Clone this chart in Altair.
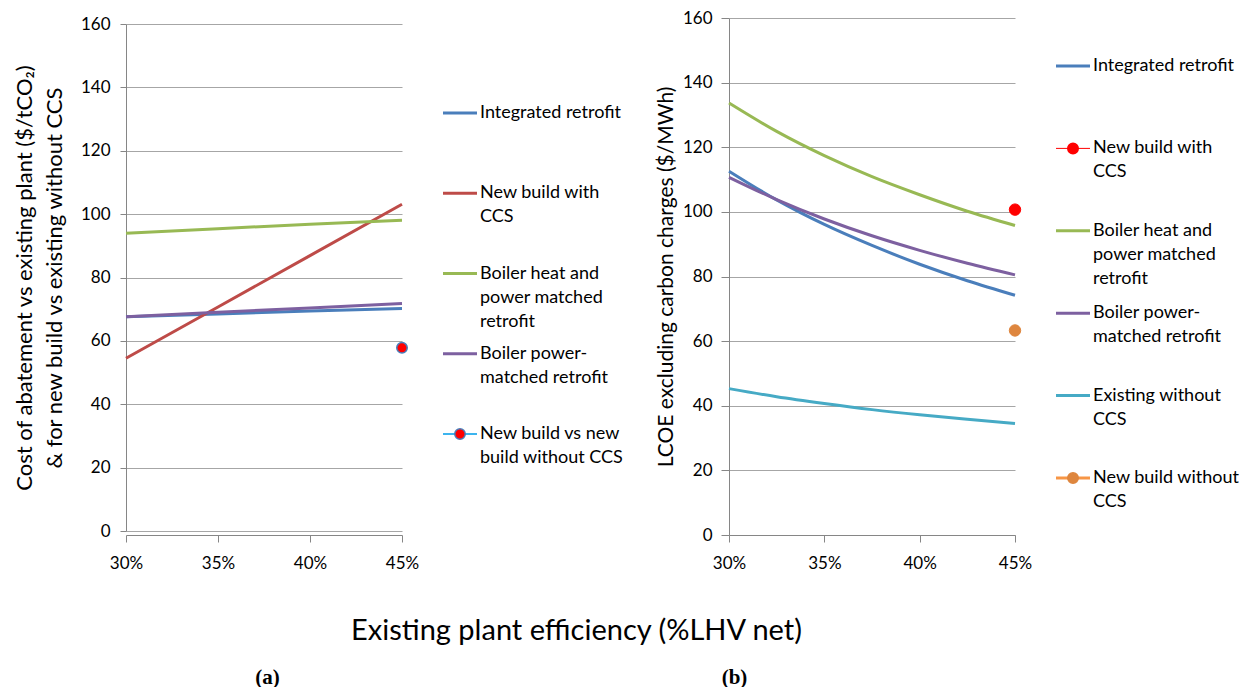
import altair as alt
import pandas as pd

# ---------------- data ----------------
eff_left = [0.30, 0.35, 0.40, 0.45]
left_series = [
    "Integrated retrofit",
    "New build with CCS",
    "Boiler heat and power matched retrofit",
    "Boiler power-matched retrofit",
]
left_integrated = [67.6, 68.5, 69.4, 70.2]
left_newbuild_ccs = [54.5, 70.7, 86.9, 103.1]
left_boiler_hp = [94.0, 95.4, 96.8, 98.1]
left_boiler_pm = [67.6, 69.0, 70.4, 71.8]
left_point_series = ["New build vs new build without CCS"]
left_point_eff = [0.45]
left_point_value = [57.8]

eff_right = [0.30, 0.325, 0.35, 0.375, 0.40, 0.425, 0.45]
right_series = [
    "Integrated retrofit",
    "Boiler heat and power matched retrofit",
    "Boiler power-matched retrofit",
    "Existing without CCS",
]
right_integrated = [112.6, 103.7, 96.1, 89.6, 83.8, 78.7, 74.2]
right_boiler_hp = [133.7, 124.9, 117.4, 110.9, 105.3, 100.2, 95.8]
right_boiler_pm = [110.7, 103.8, 97.8, 92.6, 88.1, 84.1, 80.5]
right_existing = [45.3, 42.8, 40.7, 38.8, 37.2, 35.8, 34.5]
right_point_series = ["New build with CCS", "New build without CCS"]
right_point_eff = [0.45, 0.45]
right_point_value = [100.7, 63.3]

x_ticks = [0.30, 0.35, 0.40, 0.45]
y_ticks = [0, 20, 40, 60, 80, 100, 120, 140, 160]

# legend entries (order as in the reference)
left_legend_names = left_series + left_point_series
left_legend_labels = [
    "Integrated retrofit",
    "New build with\nCCS",
    "Boiler heat and\npower matched\nretrofit",
    "Boiler power-\nmatched retrofit",
    "New build vs new\nbuild without  CCS",
]
right_legend_names = [
    "Integrated retrofit",
    "New build with CCS",
    "Boiler heat and power matched retrofit",
    "Boiler power-matched retrofit",
    "Existing without CCS",
    "New build without CCS",
]
right_legend_labels = [
    "Integrated retrofit",
    "New build with\nCCS",
    "Boiler heat and\npower matched\nretrofit",
    "Boiler power-\nmatched retrofit",
    "Existing without\nCCS",
    "New build without\nCCS",
]

# ---------------- styles ----------------
BLUE = "#4A7EBB"
RED = "#BE4B48"
GREEN = "#98B954"
PURPLE = "#7D60A0"
TEAL = "#46AAC5"
FONT = "Lato"
AXIS_GRAY = "#868686"
GRID_GRAY = "#A6A6A6"

left_colors = [BLUE, RED, GREEN, PURPLE]
right_colors = [BLUE, GREEN, PURPLE, TEAL]

left_legend_line_colors = [BLUE, RED, GREEN, PURPLE, "#3CB4EE"]
left_thin_legend_lines = {"New build vs new build without CCS": 2}
left_marker_fill = ["#FF0000"]
left_marker_stroke = [BLUE]
right_legend_line_colors = [BLUE, "#FF0000", GREEN, PURPLE, TEAL, "#F79646"]
right_thin_legend_lines = {"New build with CCS": 1}
right_marker_fill = ["#FF0000", "#DE863E"]
right_marker_stroke = ["#FF0000", "#DE863E"]


def long_table(eff, names, values):
    rows = []
    for name, vals in zip(names, values):
        for e, v in zip(eff, vals):
            rows.append({"eff": e, "value": v, "series": name})
    return pd.DataFrame(rows)


left_df = long_table(eff_left, left_series,
                     [left_integrated, left_newbuild_ccs, left_boiler_hp, left_boiler_pm])
left_pts = pd.DataFrame({"eff": left_point_eff, "value": left_point_value,
                         "series": left_point_series})
right_df = long_table(eff_right, right_series,
                      [right_integrated, right_boiler_hp, right_boiler_pm, right_existing])
right_pts = pd.DataFrame({"eff": right_point_eff, "value": right_point_value,
                          "series": right_point_series})

PLOT_H = 517


def x_enc(title, title_x, title_y):
    return alt.X(
        "eff:Q",
        scale=alt.Scale(domain=[0.30, 0.45], nice=False, zero=False),
        axis=alt.Axis(
            values=x_ticks, format=".0%", grid=False, labelFlush=False,
            labelFont=FONT, labelFontSize=17, labelColor="#000000", labelPadding=13,
            tickColor=AXIS_GRAY, tickSize=7, domainColor=AXIS_GRAY,
            title=title, titleFont="Liberation Serif", titleFontSize=21,
            titleFontWeight="bold", titleColor="#000000",
            titleX=title_x, titleY=title_y, titleBaseline="middle", titleAlign="center",
        ),
    )


def y_enc(title, yrange, tick_size, label_pad, title_pad, title_size):
    return alt.Y(
        "value:Q",
        scale=alt.Scale(domain=[0, 160], nice=False, range=yrange),
        axis=alt.Axis(
            values=y_ticks, grid=True, gridColor=GRID_GRAY, gridWidth=1, labelFlush=False,
            labelFont=FONT, labelFontSize=17, labelColor="#000000", labelPadding=label_pad,
            tickColor=AXIS_GRAY, tickSize=tick_size, domainColor=AXIS_GRAY,
            title=title, titleFont=FONT, titleFontSize=title_size, titleFontWeight="normal",
            titleColor="#000000", titleLineHeight=30, titlePadding=title_pad,
        ),
    )


# ---------------- left plot ----------------
ly = y_enc(["Cost of abatement vs existing plant  ($/tCO\u2082)",
            "& for new build vs existing without CCS"], [513, 6], 6, 10, 14, 22)
lx = x_enc("(a)", 141, 142)
left_lines = alt.Chart(left_df).mark_line(strokeWidth=3).encode(
    x=lx, y=ly,
    color=alt.Color("series:N", scale=alt.Scale(domain=left_series, range=left_colors), legend=None),
)
left_points = alt.Chart(left_pts).mark_point(filled=True, size=110, strokeWidth=1.5, opacity=1).encode(
    x="eff:Q", y="value:Q",
    fill=alt.Fill("series:N", scale=alt.Scale(domain=left_point_series, range=left_marker_fill), legend=None),
    stroke=alt.Stroke("series:N", scale=alt.Scale(domain=left_point_series, range=left_marker_stroke), legend=None),
)
left_plot = alt.layer(left_lines, left_points).properties(width=276, height=PLOT_H)

# ---------------- right plot ----------------
ry = y_enc("LCOE excluding carbon charges ($/MWh)", [PLOT_H, 0], 8, 9, 6, 21)
rx = x_enc("(b)", 5, 142)
right_lines = alt.Chart(right_df).mark_line(strokeWidth=3, interpolate="monotone").encode(
    x=rx, y=ry,
    color=alt.Color("series:N", scale=alt.Scale(domain=right_series, range=right_colors), legend=None),
)
right_points = alt.Chart(right_pts).mark_point(filled=True, size=130, strokeWidth=1, opacity=1).encode(
    x="eff:Q", y="value:Q",
    fill=alt.Fill("series:N", scale=alt.Scale(domain=right_point_series, range=right_marker_fill), legend=None),
    stroke=alt.Stroke("series:N", scale=alt.Scale(domain=right_point_series, range=right_marker_stroke), legend=None),
)
right_plot = alt.layer(right_lines, right_points).properties(width=286, height=PLOT_H)


# ---------------- legends ----------------
def legend_panel(names, labels, line_colors, thin_lines, marker_names, marker_fill,
                 marker_stroke, y_range, width):
    df = pd.DataFrame({"series": names, "label": labels,
                       "marker": [n in marker_names for n in names],
                       "thin": [n in thin_lines for n in names]})
    y = alt.Y("series:N", scale=alt.Scale(type="point", domain=names, range=y_range, padding=0),
              axis=None)
    color = alt.Color("series:N", scale=alt.Scale(domain=names, range=line_colors), legend=None)
    base = alt.Chart(df)
    layers = [
        base.transform_filter("!datum.thin").mark_rule(strokeWidth=3).encode(
            x=alt.value(41), x2=alt.value(75), y=y, color=color)
    ]
    for name, w in thin_lines.items():
        layers.append(
            base.transform_filter(alt.datum.series == name).mark_rule(strokeWidth=w).encode(
                x=alt.value(41), x2=alt.value(75), y=y, color=color)
        )
    layers.append(
        base.transform_filter("datum.marker").mark_point(
            filled=True, size=110, strokeWidth=1.5, opacity=1).encode(
            x=alt.value(58), y=y,
            fill=alt.Fill("series:N", scale=alt.Scale(domain=marker_names, range=marker_fill), legend=None),
            stroke=alt.Stroke("series:N", scale=alt.Scale(domain=marker_names, range=marker_stroke), legend=None),
        )
    )
    layers.append(
        base.mark_text(align="left", baseline="middle", lineBreak="\n", font=FONT,
                       fontSize=18, lineHeight=24, color="#000000").encode(
            x=alt.value(78), y=y, text="label:N")
    )
    return alt.layer(*layers).properties(width=width, height=PLOT_H)


left_legend = legend_panel(left_legend_names, left_legend_labels, left_legend_line_colors,
                           left_thin_legend_lines, left_point_series, left_marker_fill,
                           left_marker_stroke, [95, 416], 327)
right_legend = legend_panel(right_legend_names, right_legend_labels, right_legend_line_colors,
                            right_thin_legend_lines, right_point_series, right_marker_fill,
                            right_marker_stroke, [48, 460], 222)

chart = alt.hconcat(
    left_plot, left_legend, right_plot, right_legend, spacing=0, bounds="flush"
).resolve_scale(
    color="independent", fill="independent", stroke="independent", y="independent",
    x="independent"
).properties(
    title=alt.TitleParams(
        text="Existing plant efficiency (%LHV net)", orient="bottom", anchor="middle",
        font=FONT, fontSize=29, fontWeight="normal", color="#000000", offset=-70, dx=-50,
    ),
    padding={"left": 13, "top": 9, "right": 0, "bottom": 0},
    background="white",
).configure_view(stroke=None)

chart.save("out.html", embed_options={"renderer": "svg", "actions": False})
